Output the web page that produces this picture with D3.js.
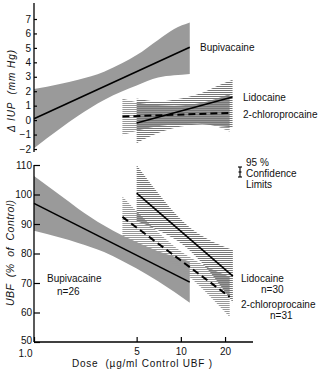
<!DOCTYPE html>
<html><head><meta charset="utf-8">
<script src="https://cdn.jsdelivr.net/npm/d3@7"></script>
<style>
html,body{margin:0;padding:0;background:#fff;}
svg{display:block;font-family:"Liberation Sans",Arial,sans-serif;}
text{fill:#111;}
</style></head>
<body>
<script>
// ---- data ----
const doseTicks = [1, 5, 10, 20];
const doseTickLabels = ["1.0", "5", "10", "20"];
const iupTicks = [-2, -1, 0, 1, 2, 3, 4, 5, 6, 7];
const ubfTicks = [50, 60, 70, 80, 90, 100, 110];

// Top panel: change in IUP (mm Hg)
const iupBupDose = [1, 1.5, 2, 3, 4, 5, 7, 9, 11.5];
const iupBupUpper = [2.15, 2.5, 2.8, 3.35, 3.95, 4.5, 5.55, 6.3, 6.75];
const iupBupLower = [-1.95, -0.6, 0.3, 1.4, 2.0, 2.4, 2.95, 3.1, 3.2];
const iupBupLineDose = [1, 11.5];
const iupBupLine = [0.1, 5.05];

const iupLidDose = [5, 7, 10, 14, 18, 22.5];
const iupLidUpper = [1.5, 1.3, 1.5, 1.9, 2.4, 2.8];
const iupLidLower = [-1.6, -0.9, -0.45, -0.3, -0.4, -0.5];
const iupLidLineDose = [5, 22.5];
const iupLidLine = [-0.2, 1.6];

const iupChlDose = [4, 6, 9, 13, 17, 21.5];
const iupChlUpper = [1.5, 1.1, 1.0, 1.15, 1.45, 1.8];
const iupChlLower = [-1.05, -0.55, -0.3, -0.25, -0.4, -0.8];
const iupChlLineDose = [4, 21.5];
const iupChlLine = [0.25, 0.5];

// Bottom panel: UBF (% of control)
const ubfBupDose = [1, 1.5, 2, 3, 4, 5, 7, 9, 11.5];
const ubfBupUpper = [106.3, 99.8, 95.2, 89.5, 86.1, 83.9, 80.8, 79.0, 77.3];
const ubfBupLower = [87.7, 85.4, 83.6, 80.5, 77.5, 74.9, 70.6, 67.0, 63.3];
const ubfBupLineDose = [1, 11.5];
const ubfBupLine = [97, 70.3];

const ubfLidDose = [5, 7, 9, 11, 14, 18, 22.6];
const ubfLidUpper = [110, 100.5, 94, 89.7, 85.9, 83.1, 81.2];
const ubfLidLower = [91, 87.9, 85, 81.9, 76.7, 70.1, 63.4];
const ubfLidLineDose = [5, 22.6];
const ubfLidLine = [100.5, 72.3];

const ubfChlDose = [4, 6, 9, 12, 16, 21.5];
const ubfChlUpper = [99.3, 90.4, 82.5, 78.2, 74.8, 72.1];
const ubfChlLower = [85.5, 81.4, 76.1, 71.2, 65.2, 58.5];
const ubfChlLineDose = [4, 21.5];
const ubfChlLine = [92.4, 65.3];

// ---- drawing ----
const W = 326, H = 376;
const svg = d3.select("body").append("svg").attr("width", W).attr("height", H);

const defs = svg.append("defs");
function hatch(id, off, col) {
  const p = defs.append("pattern").attr("id", id).attr("patternUnits", "userSpaceOnUse")
    .attr("width", 4).attr("height", 2);
  p.append("rect").attr("x", 0).attr("y", off).attr("width", 4).attr("height", 1).attr("fill", col);
}
hatch("hatchA", 0, "#777");
hatch("hatchB", 1, "#999");

const x = d3.scaleLog().domain([1, 31]).range([34, 253]);
const yTop = d3.scaleLinear().domain([-2, 7]).range([149, 19]);
const yBot = d3.scaleLinear().domain([50, 110]).range([342, 165]);

function band(g, y, dose, up, lo, fill) {
  const data = dose.map((d, i) => ({d, u: up[i], l: lo[i]}));
  g.append("path").datum(data)
    .attr("d", d3.area().x(p => x(p.d)).y0(p => y(p.l)).y1(p => y(p.u)).curve(d3.curveMonotoneX))
    .attr("fill", fill);
}
function line(g, y, dose, vals, dashed) {
  const data = dose.map((d, i) => ({d, v: vals[i]}));
  g.append("path").datum(data)
    .attr("d", d3.line().x(p => x(p.d)).y(p => y(p.v)))
    .attr("fill", "none").attr("stroke", "#000")
    .attr("stroke-width", dashed ? 2 : 1.6)
    .attr("stroke-dasharray", dashed ? "7,4" : null);
}

// top panel
const gt = svg.append("g");
band(gt, yTop, iupBupDose, iupBupUpper, iupBupLower, "#9a9a9a");
band(gt, yTop, iupChlDose, iupChlUpper, iupChlLower, "url(#hatchB)");
band(gt, yTop, iupLidDose, iupLidUpper, iupLidLower, "url(#hatchA)");
line(gt, yTop, iupBupLineDose, iupBupLine, false);
line(gt, yTop, iupLidLineDose, iupLidLine, false);
line(gt, yTop, iupChlLineDose, iupChlLine, true);

// bottom panel
const gb = svg.append("g");
band(gb, yBot, ubfBupDose, ubfBupUpper, ubfBupLower, "#9a9a9a");
band(gb, yBot, ubfChlDose, ubfChlUpper, ubfChlLower, "url(#hatchB)");
band(gb, yBot, ubfLidDose, ubfLidUpper, ubfLidLower, "url(#hatchA)");
line(gb, yBot, ubfBupLineDose, ubfBupLine, false);
line(gb, yBot, ubfLidLineDose, ubfLidLine, false);
line(gb, yBot, ubfChlLineDose, ubfChlLine, true);

// axes
function styleAxis(g) {
  g.selectAll("path.domain").remove();
  g.selectAll(".tick line").attr("stroke", "#000").attr("stroke-width", 1.2);
  g.selectAll(".tick text").attr("font-size", 10).attr("fill", "#111")
    .attr("font-family", "Liberation Sans, Arial, sans-serif");
}
const axT = svg.append("g").attr("transform", "translate(34,0)")
  .call(d3.axisLeft(yTop).tickValues(iupTicks).tickSize(-3).tickPadding(3));
styleAxis(axT);
svg.append("line").attr("x1", 34).attr("x2", 34).attr("y1", yTop(8.1)).attr("y2", yTop(-2.2))
  .attr("stroke", "#000").attr("stroke-width", 1.3);

const axB = svg.append("g").attr("transform", "translate(34,0)")
  .call(d3.axisLeft(yBot).tickValues(ubfTicks).tickSize(-6).tickPadding(2));
styleAxis(axB);
axB.selectAll(".tick text").filter(d => d === 50).attr("dy", "0.1em");
svg.append("line").attr("x1", 34).attr("x2", 34).attr("y1", yBot(110)).attr("y2", yBot(50))
  .attr("stroke", "#000").attr("stroke-width", 1.3);

const axX = svg.append("g").attr("transform", "translate(0,342)")
  .call(d3.axisBottom(x).tickValues(doseTicks).tickFormat((d, i) => doseTickLabels[i]).tickSize(-5).tickPadding(6));
styleAxis(axX);
axX.selectAll(".tick text").filter(d => d === 1).attr("dx", -9).attr("dy", "0.85em");
svg.append("line").attr("x1", 34).attr("x2", 253).attr("y1", 342).attr("y2", 342)
  .attr("stroke", "#000").attr("stroke-width", 1.3);

// axis titles
svg.append("text").attr("transform", "translate(15,91) rotate(-90)")
  .attr("text-anchor", "middle").attr("font-size", 10).attr("font-style", "italic")
  .style("white-space", "pre").attr("textLength", 82).attr("lengthAdjust", "spacing")
  .text("\u0394 IUP  (mm Hg)");
svg.append("text").attr("transform", "translate(14,253) rotate(-90)")
  .attr("text-anchor", "middle").attr("font-size", 10.5).attr("font-style", "italic")
  .style("white-space", "pre").attr("textLength", 106).attr("lengthAdjust", "spacing")
  .text("UBF  (%  of  Control)");
svg.append("text").attr("x", 72).attr("y", 367).attr("font-size", 10)
  .style("white-space", "pre").attr("textLength", 140).attr("lengthAdjust", "spacing")
  .text("Dose  (\u00b5g/ml Control UBF )");

// labels
function label(t, lx, ly) {
  svg.append("text").attr("x", lx).attr("y", ly).attr("font-size", 10).text(t);
}
label("Bupivacaine", 200, 51);
label("Lidocaine", 243, 100.5);
label("2-chloroprocaine", 243, 117.5);
label("95 %", 246, 166);
label("Confidence", 246, 177);
label("Limits", 246, 187.5);
label("Lidocaine", 241, 282);
label("n=30", 261, 293);
label("2-chloroprocaine", 241, 307.5);
label("n=31", 270, 318.5);
label("Bupivacaine", 47, 282);
label("n=26", 57, 295);

// confidence-limit symbol
const cl = svg.append("g").attr("stroke", "#000").attr("stroke-width", 1.1);
cl.append("line").attr("x1", 240).attr("x2", 240).attr("y1", 167).attr("y2", 177);
cl.append("line").attr("x1", 238).attr("x2", 242).attr("y1", 167).attr("y2", 167);
cl.append("line").attr("x1", 238).attr("x2", 242).attr("y1", 177).attr("y2", 177);
cl.append("line").attr("x1", 238.5).attr("x2", 241.5).attr("y1", 172).attr("y2", 172);
</script>
</body></html>
